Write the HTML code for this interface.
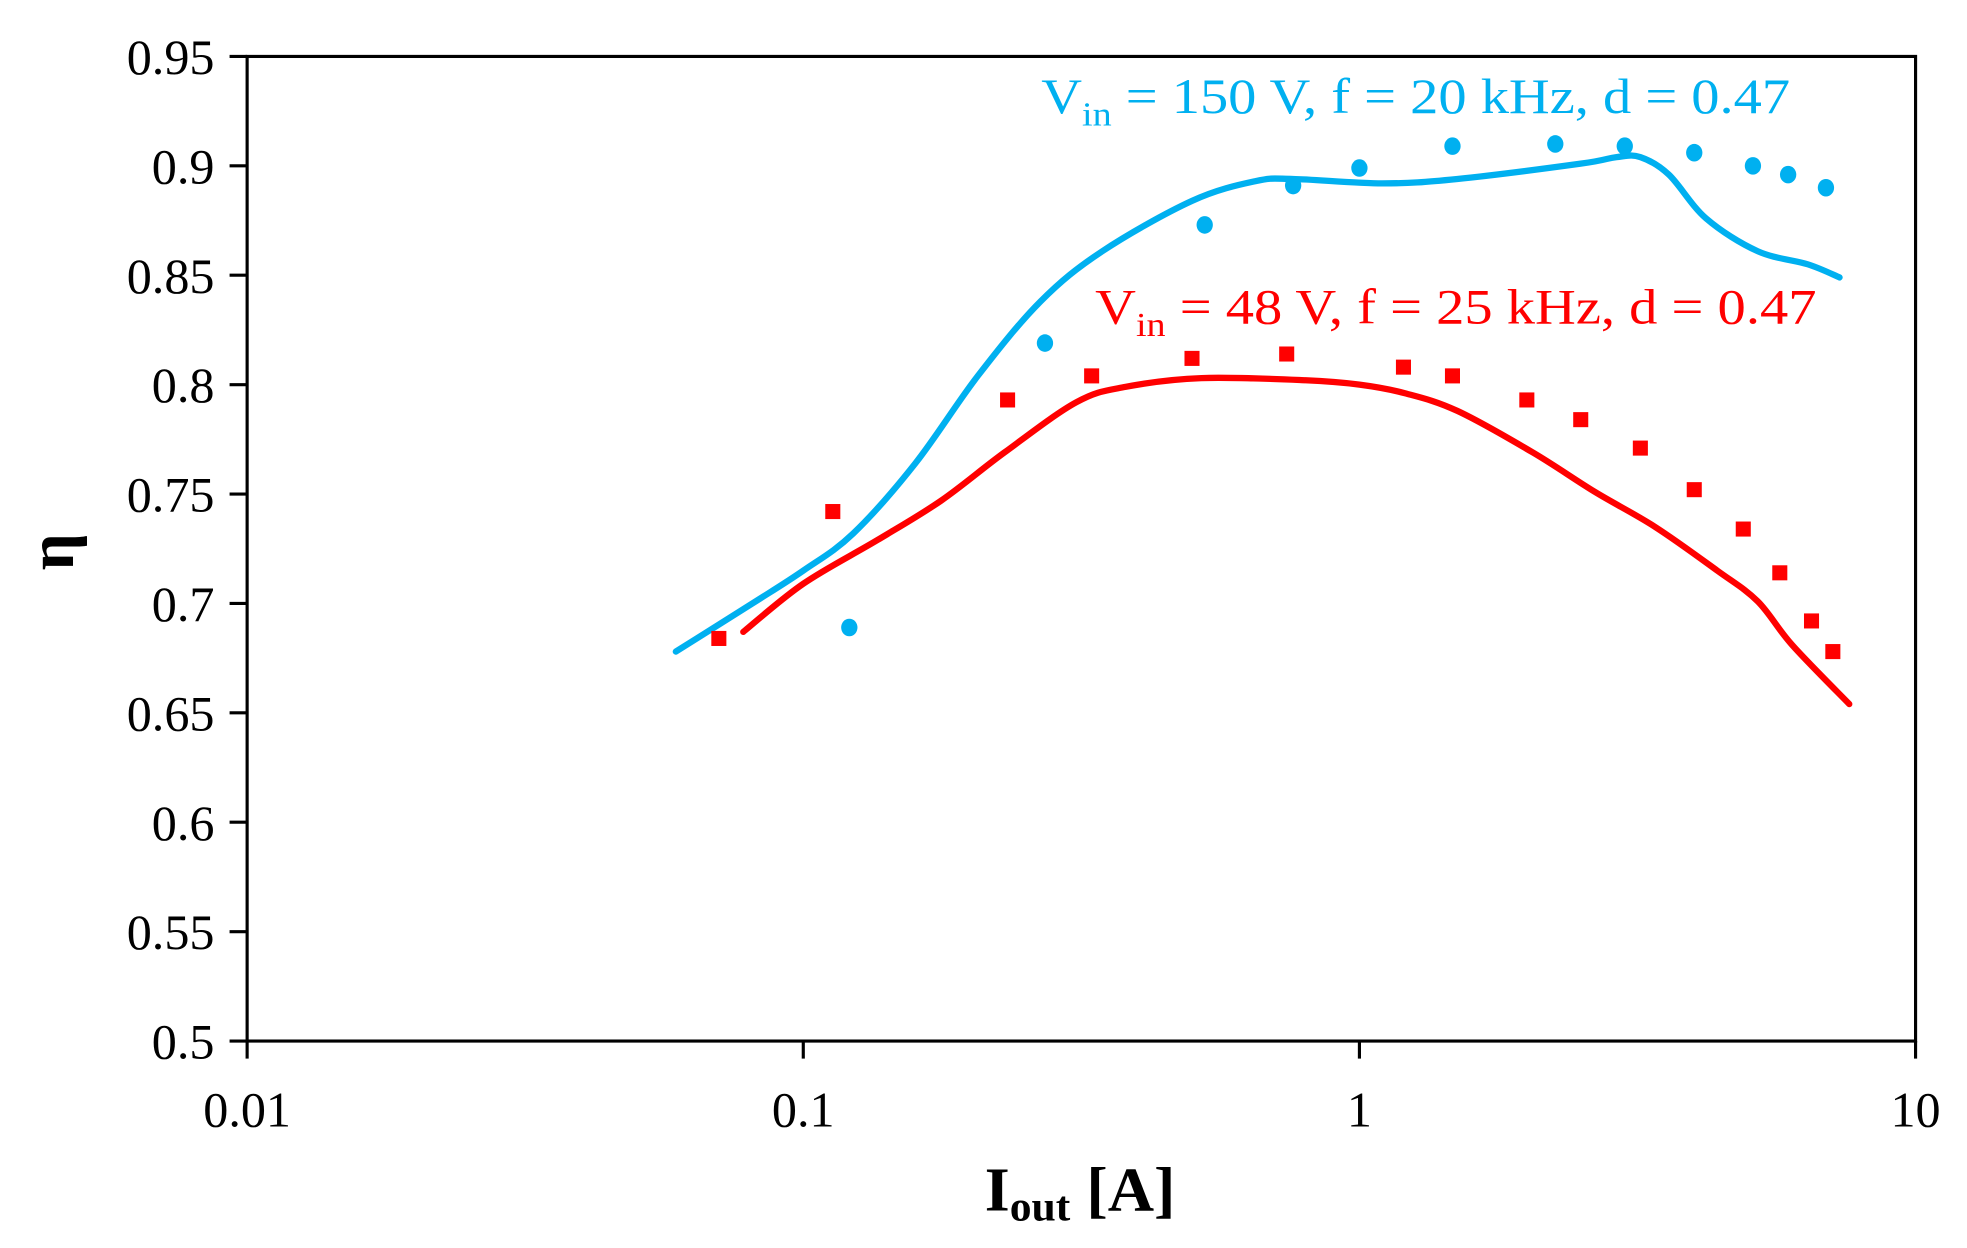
<!DOCTYPE html>
<html><head><meta charset="utf-8"><style>html,body{margin:0;padding:0;background:#fff}svg{display:block}</style></head>
<body>
<svg id="chart" width="1967" height="1248" viewBox="0 0 1568 995" preserveAspectRatio="none" xmlns="http://www.w3.org/2000/svg" font-family="'Liberation Serif', serif">
<g id="axes"></g>
<g id="series"></g>
<text x="830" y="90" font-size="40" fill="#00B0F0" textLength="597" lengthAdjust="spacingAndGlyphs">V<tspan font-size="27" dy="10">in</tspan><tspan dy="-10"> = 150 V, f  = 20 kHz, d = 0.47</tspan></text>
<text x="873" y="258" font-size="40" fill="#FF0000" textLength="575" lengthAdjust="spacingAndGlyphs">V<tspan font-size="27" dy="10">in</tspan><tspan dy="-10"> = 48 V, f  = 25 kHz, d = 0.47</tspan></text>
<text x="785" y="965" font-size="50" font-weight="bold" textLength="152" lengthAdjust="spacingAndGlyphs">I<tspan font-size="34" dy="8">out</tspan><tspan dy="-8"> [A]</tspan></text>
<text x="0" y="0" font-size="52" font-weight="bold" transform="translate(58,440) rotate(-90)" text-anchor="middle">η</text>
</svg>
<script>
const yTicks=[0.5,0.55,0.6,0.65,0.7,0.75,0.8,0.85,0.9,0.95];
const yTickLabels=['0.5','0.55','0.6','0.65','0.7','0.75','0.8','0.85','0.9','0.95'];
const xTicks=[0.01,0.1,1,10];
const xTickLabels=['0.01','0.1','1','10'];
const blueX=[0.121,0.272,0.527,0.76,1.0,1.47,2.25,3.0,4.0,5.1,5.9,6.9];
const blueY=[0.689,0.819,0.873,0.891,0.899,0.909,0.910,0.909,0.906,0.900,0.896,0.890];
const redX=[0.0705,0.113,0.233,0.33,0.50,0.74,1.20,1.47,2.0,2.5,3.2,4.0,4.9,5.7,6.5,7.1];
const redY=[0.684,0.742,0.793,0.804,0.812,0.814,0.808,0.804,0.793,0.784,0.771,0.752,0.734,0.714,0.692,0.678];
const blueCurveX=[0.059,0.081,0.1,0.123,0.159,0.206,0.267,0.345,0.50,0.65,0.76,1.1,1.5,2.5,2.9,3.2,3.6,4.2,5.2,6.4,7.3];
const blueCurveY=[0.678,0.700,0.715,0.732,0.764,0.804,0.838,0.861,0.884,0.893,0.894,0.892,0.894,0.901,0.904,0.904,0.896,0.876,0.861,0.855,0.849];
const redCurveX=[0.078,0.1,0.136,0.177,0.23,0.31,0.38,0.52,0.80,1.0,1.21,1.5,2.05,2.65,3.4,4.4,5.2,6.0,7.6];
const redCurveY=[0.687,0.709,0.729,0.747,0.769,0.792,0.799,0.803,0.802,0.800,0.796,0.788,0.769,0.751,0.735,0.715,0.701,0.681,0.654];

const L=197,R=1527,T=45,B=830;
const xs=v=>L+(Math.log10(v)+2)/3*(R-L);
const ys=v=>B-(v-0.5)/0.45*(B-T);
const NS='http://www.w3.org/2000/svg';
function mk(tag,attrs,parent){const e=document.createElementNS(NS,tag);for(const k in attrs)e.setAttribute(k,attrs[k]);parent.appendChild(e);return e;}
const ax=document.getElementById('axes');
let f=mk('rect',{x:L,y:T,width:R-L,height:B-T,fill:'none',stroke:'#000','stroke-width':2.5},ax);


yTicks.forEach((v,i)=>{
  let t=mk('line',{x1:L-14,x2:L,y1:ys(v),y2:ys(v),stroke:'#000','stroke-width':2.5},ax);
  
  
  let s=mk('text',{x:L-26,y:ys(v)+14,'font-size':40,'text-anchor':'end'},ax);
  s.textContent=yTickLabels[i];
  
  
});
xTicks.forEach((v,i)=>{
  let t=mk('line',{x1:xs(v),x2:xs(v),y1:B,y2:B+14,stroke:'#000','stroke-width':2.5},ax);
  
  
  let s=mk('text',{x:xs(v),y:B+68,'font-size':40,'text-anchor':'middle'},ax);
  s.textContent=xTickLabels[i];
  
  
});
function smooth(X,Y){
  const p=X.map((x,i)=>[xs(x),ys(Y[i])]);
  let d='M'+p[0][0]+','+p[0][1];
  for(let i=0;i<p.length-1;i++){
    const p0=p[Math.max(0,i-1)],p1=p[i],p2=p[i+1],p3=p[Math.min(p.length-1,i+2)];
    const c1=[p1[0]+(p2[0]-p0[0])/6,p1[1]+(p2[1]-p0[1])/6];
    const c2=[p2[0]-(p3[0]-p1[0])/6,p2[1]-(p3[1]-p1[1])/6];
    d+=' C'+c1+' '+c2+' '+p2;
  }
  return d;
}
const sg=document.getElementById('series');
let bl=mk('path',{d:smooth(blueCurveX,blueCurveY),fill:'none',stroke:'#00B0F0','stroke-width':5,'stroke-linecap':'round'},sg);


let rl=mk('path',{d:smooth(redCurveX,redCurveY),fill:'none',stroke:'#FF0000','stroke-width':5,'stroke-linecap':'round'},sg);


blueX.forEach((x,i)=>{
  let c=mk('ellipse',{cx:xs(x),cy:ys(blueY[i]),rx:6.5,ry:7,fill:'#00B0F0'},sg);
  
  
});
redX.forEach((x,i)=>{
  let c=mk('rect',{x:xs(x)-6,y:ys(redY[i])-6,width:12,height:12,fill:'#FF0000'},sg);
  
  
});
</script>
</body></html>
